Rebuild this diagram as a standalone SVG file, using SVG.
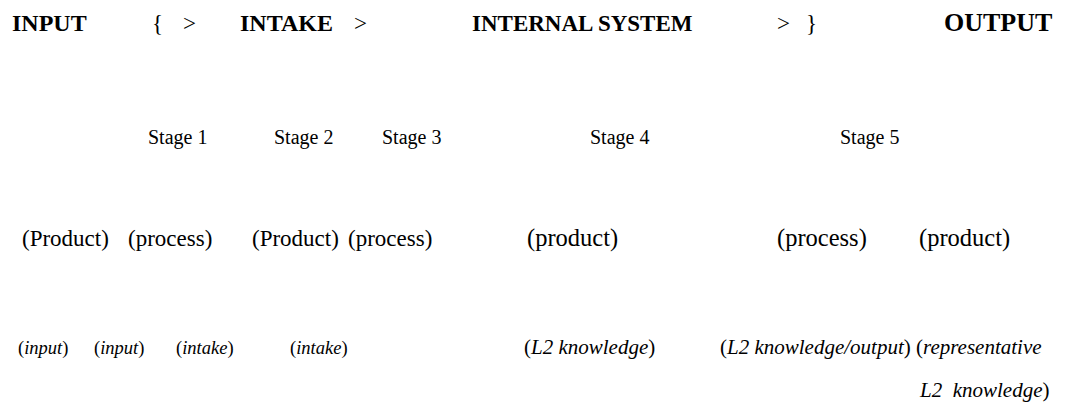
<svg xmlns="http://www.w3.org/2000/svg" width="1069" height="408" viewBox="0 0 1069 408">
  <style>
    text { font-family: "Liberation Serif", "Times New Roman", serif; fill: #000; }
    .head { font-size: 24px; font-weight: bold; }
    .sym { font-size: 23px; }
    .stage { font-size: 20px; }
    .kind { font-size: 23px; }
    .kind-lg { font-size: 24.5px; }
    .role { font-size: 18.5px; }
    .role-lg { font-size: 21px; }
    .it { font-style: italic; }
  </style>
  <rect width="1069" height="408" fill="#fff"/>

  <!-- top row: flow headings -->
  <g id="headings">
    <text class="head" x="12" y="31">INPUT</text>
    <text class="sym" x="152" y="31">{</text>
    <text class="sym" x="183" y="31">&gt;</text>
    <text class="head" x="240" y="31">INTAKE</text>
    <text class="sym" x="354" y="31">&gt;</text>
    <text class="head" x="472" y="31" style="font-size:23px">INTERNAL SYSTEM</text>
    <text class="sym" x="777" y="31">&gt;</text>
    <text class="sym" x="806" y="31">}</text>
    <text class="head" x="944" y="31" style="font-size:26px">OUTPUT</text>
  </g>

  <!-- stage numbers -->
  <g id="stages">
    <text class="stage" x="148" y="144">Stage 1</text>
    <text class="stage" x="274" y="144">Stage 2</text>
    <text class="stage" x="382" y="144">Stage 3</text>
    <text class="stage" x="590" y="144">Stage 4</text>
    <text class="stage" x="840" y="144">Stage 5</text>
  </g>

  <!-- product / process row -->
  <g id="kinds">
    <text class="kind" x="22" y="246">(Product)</text>
    <text class="kind" x="128" y="246">(process)</text>
    <text class="kind" x="252" y="246">(Product)</text>
    <text class="kind" x="348" y="246">(process)</text>
    <text class="kind-lg" x="527" y="246">(product)</text>
    <text class="kind-lg" x="777" y="246">(process)</text>
    <text class="kind-lg" x="919" y="246">(product)</text>
  </g>

  <!-- role of each stage -->
  <g id="roles">
    <text class="role" x="18" y="354">(<tspan class="it">input</tspan>)</text>
    <text class="role" x="94" y="354">(<tspan class="it">input</tspan>)</text>
    <text class="role" x="176" y="354">(<tspan class="it">intake</tspan>)</text>
    <text class="role" x="290" y="354">(<tspan class="it">intake</tspan>)</text>
    <text class="role-lg" x="524" y="354">(<tspan class="it">L2 knowledge</tspan>)</text>
    <text class="role-lg" x="720" y="354">(<tspan class="it">L2 knowledge/output</tspan>) (<tspan class="it">representative</tspan></text>
    <text class="role-lg" x="920" y="397" xml:space="preserve"><tspan class="it">L2  knowledge</tspan>)</text>
  </g>
</svg>
